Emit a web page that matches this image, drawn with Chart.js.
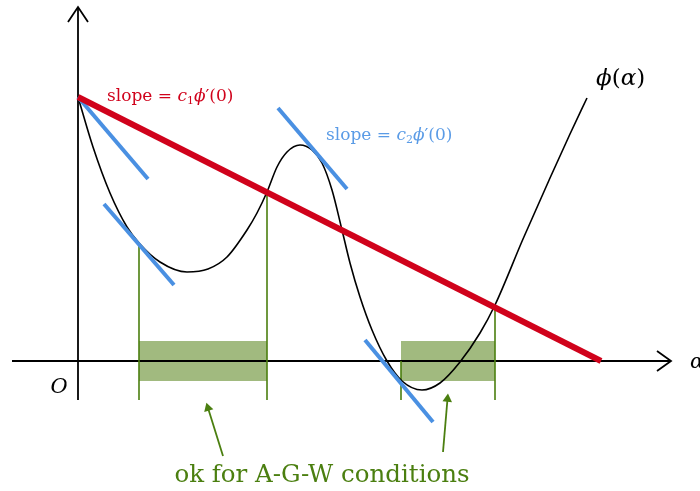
<!DOCTYPE html>
<html>
<head>
<meta charset="utf-8">
<script src="https://cdn.jsdelivr.net/npm/chart.js@4/dist/chart.umd.min.js"></script>
<style>
  html, body { margin: 0; padding: 0; background: #ffffff; }
  canvas { display: block; }
</style>
</head>
<body>
<canvas id="chart" width="700" height="491"></canvas>
<script>
// phi(alpha)
const phiX = [0, 0.15, 0.32, 0.49, 0.61, 0.82, 1.09, 1.30, 1.49, 1.69, 1.79, 1.89, 1.99, 2.09, 2.22, 2.34, 2.44, 2.54, 2.64, 2.72, 2.82, 2.94, 3.09, 3.24, 3.44, 3.62, 3.82, 4.02, 4.17, 4.45, 4.72, 4.92, 5.09];
const phiY = [2.64, 2.14, 1.68, 1.34, 1.18, 0.99, 0.89, 0.92, 1.04, 1.31, 1.48, 1.69, 1.94, 2.09, 2.16, 2.11, 1.98, 1.71, 1.31, 0.98, 0.64, 0.31, 0.00, -0.20, -0.29, -0.22, -0.01, 0.28, 0.56, 1.22, 1.83, 2.27, 2.63];

// sufficient decrease line: slope = c1 phi'(0)
const armijoX = [0, 5.23];
const armijoY = [2.64, 0];

// short tangent segments (start x, start y, end x, end y)
const tangents = [
  [0, 2.64, 0.70, 1.82],
  [0.26, 1.57, 0.96, 0.76],
  [2.00, 2.53, 2.69, 1.72],
  [2.87, 0.21, 3.55, -0.61]
];

// accepted intervals and their boundary marks
const intervals = [[0.61, 1.89], [3.23, 4.17]];
const boundX = [0.61, 1.89, 3.23, 4.17];
const boundTop = [1.18, 1.70, 0, 0.54];
const boundBottom = -0.39;
const bandHalf = 0.20;

// pointers to the intervals (tail x, tail y, head x, head y, angle)
const pointers = [
  [1.45, -0.95, 1.30, -0.47, -17],
  [3.65, -0.91, 3.695, -0.38, 5]
];

const RED = "#d0021b";
const BLUE = "#4a90e2";
const GREEN = "#4b7f10";
const BAND = "#a1ba7f";
const SERIF = "'DejaVu Serif', 'Liberation Serif', serif";

function zip(xs, ys) {
  return xs.map((x, i) => ({ x, y: ys[i] }));
}

function seg(x1, y1, x2, y2) {
  return [{ x: x1, y: y1 }, { x: x2, y: y2 }];
}

const datasets = [];

datasets.push({
  data: zip(armijoX, armijoY),
  borderColor: RED, borderWidth: 6, borderCapStyle: "butt",
  pointRadius: 0, showLine: true, order: 0
});

tangents.forEach(t => {
  datasets.push({
    data: seg(t[0], t[1], t[2], t[3]),
    borderColor: BLUE, borderWidth: 4, borderCapStyle: "butt",
    pointRadius: 0, showLine: true, order: 1
  });
});

datasets.push({
  data: zip(phiX, phiY),
  borderColor: "#000000", borderWidth: 1.6,
  cubicInterpolationMode: "monotone",
  pointRadius: 0, showLine: true, order: 2
});

boundX.forEach((x, i) => {
  datasets.push({
    data: seg(x, boundTop[i], x, boundBottom),
    borderColor: GREEN, borderWidth: 1.6,
    pointRadius: 0, showLine: true, order: 3
  });
});

pointers.forEach(p => {
  datasets.push({
    data: seg(p[0], p[1], p[2], p[3]),
    borderColor: GREEN, backgroundColor: GREEN, borderWidth: 1.8,
    pointStyle: "triangle", pointRadius: [0, 5.5], pointRotation: [0, p[4]],
    pointBorderWidth: 0,
    showLine: true, order: 3
  });
});

// axes with open arrow heads
datasets.push({
  data: seg(-0.66, 0, 5.93, 0),
  borderColor: "#000000", borderWidth: 1.8, pointRadius: 0, showLine: true, order: 4
});
datasets.push({
  data: seg(0, -0.39, 0, 3.54),
  borderColor: "#000000", borderWidth: 1.8, pointRadius: 0, showLine: true, order: 4
});
datasets.push({
  data: [{ x: 5.79, y: 0.10 }, { x: 5.93, y: 0 }, { x: 5.79, y: -0.10 }],
  borderColor: "#000000", borderWidth: 1.8, pointRadius: 0, showLine: true, order: 4
});
datasets.push({
  data: [{ x: -0.10, y: 3.39 }, { x: 0, y: 3.54 }, { x: 0.10, y: 3.39 }],
  borderColor: "#000000", borderWidth: 1.8, pointRadius: 0, showLine: true, order: 4
});

intervals.forEach(iv => {
  datasets.push({
    data: seg(iv[0], bandHalf, iv[1], bandHalf),
    borderWidth: 0, backgroundColor: BAND,
    fill: { value: -bandHalf },
    pointRadius: 0, showLine: true, order: 5
  });
});

// labels, drawn as runs of text so sub/superscripts sit right
const labels = [
  { x: 0.29, y: 2.60, color: RED, align: "left", parts: [
    ["slope = ", 17, ""], ["c", 17, "italic "], ["1", 11, "", 3], ["ϕ", 17, "italic "], ["′(0)", 17, ""]
  ]},
  { x: 2.48, y: 2.21, color: "#5a9be6", align: "left", parts: [
    ["slope = ", 17, ""], ["c", 17, "italic "], ["2", 11, "", 3], ["ϕ", 17, "italic "], ["′(0)", 17, ""]
  ]},
  { x: 5.18, y: 2.76, color: "#000000", align: "left", parts: [
    ["ϕ", 23, "italic "], ["(", 23, ""], ["α", 23, "italic "], [")", 23, ""]
  ]},
  { x: -0.19, y: -0.32, color: "#000000", align: "center", parts: [["O", 21, "italic "]] },
  { x: 6.12, y: -0.07, color: "#000000", align: "left", parts: [["α", 21, "italic "]] },
  { x: 2.44, y: -1.21, color: GREEN, align: "center", parts: [["ok for A-G-W conditions", 24.5, ""]] }
];

const textPlugin = {
  id: "richText",
  afterDatasetsDraw(chart) {
    const { ctx, scales } = chart;
    ctx.save();
    ctx.textBaseline = "alphabetic";
    ctx.textAlign = "left";
    labels.forEach(l => {
      let total = 0;
      l.parts.forEach(p => {
        ctx.font = `${p[2]}${p[1]}px ${SERIF}`;
        total += ctx.measureText(p[0]).width;
      });
      let px = scales.x.getPixelForValue(l.x);
      const py = scales.y.getPixelForValue(l.y);
      if (l.align === "center") px -= total / 2;
      ctx.fillStyle = l.color;
      l.parts.forEach(p => {
        ctx.font = `${p[2]}${p[1]}px ${SERIF}`;
        ctx.fillText(p[0], px, py + (p[3] || 0));
        px += ctx.measureText(p[0]).width;
      });
    });
    ctx.restore();
  }
};

new Chart(document.getElementById("chart"), {
  type: "scatter",
  data: { datasets },
  options: {
    responsive: false,
    animation: false,
    events: [],
    layout: { padding: 0, autoPadding: false },
    plugins: {
      legend: { display: false },
      tooltip: { enabled: false }
    },
    scales: {
      x: { type: "linear", min: -0.78, max: 6.22, display: false },
      y: { type: "linear", min: -1.30, max: 3.61, display: false }
    }
  },
  plugins: [textPlugin]
});
</script>
</body>
</html>
